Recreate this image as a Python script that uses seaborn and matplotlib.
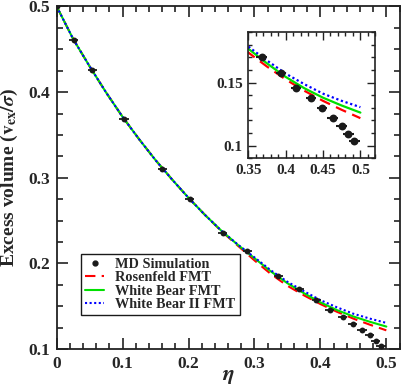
import numpy as np
import pandas as pd
import matplotlib
matplotlib.use("Agg")
import matplotlib.pyplot as plt
import seaborn as sns
from matplotlib.ticker import MultipleLocator
from matplotlib.lines import Line2D

# ---- data ----
eta_md = [0.0, 0.026, 0.054, 0.102, 0.160, 0.202, 0.252, 0.289, 0.336, 0.368,
          0.394, 0.414, 0.434, 0.449, 0.463, 0.475, 0.484, 0.492]
v_md = [0.5, 0.4604, 0.4254, 0.369, 0.3107, 0.275, 0.236, 0.2145, 0.1855, 0.1703,
        0.1572, 0.146, 0.1374, 0.1297, 0.1222, 0.1158, 0.109, 0.1035]
xerr_md = [0.0, 0.007, 0.007, 0.007, 0.007, 0.007, 0.007, 0.007, 0.007, 0.007,
           0.007, 0.007, 0.007, 0.007, 0.007, 0.007, 0.007, 0.007]

eta_th = [0.0, 0.025, 0.05, 0.075, 0.1, 0.125, 0.15, 0.175, 0.2, 0.225, 0.25,
          0.275, 0.3, 0.325, 0.35, 0.375, 0.4, 0.425, 0.45, 0.475, 0.5]
v_rosenfeld = [0.5, 0.462, 0.430, 0.3995, 0.371, 0.345, 0.3205, 0.298, 0.2765, 0.2565,
               0.2375, 0.2205, 0.2035, 0.1875, 0.1738, 0.1627, 0.1525, 0.1435, 0.1355,
               0.1284, 0.1218]
v_whitebear = [0.5, 0.462, 0.430, 0.3995, 0.371, 0.345, 0.3205, 0.298, 0.2765, 0.2565,
               0.238, 0.2215, 0.2060, 0.1905, 0.1768, 0.1652, 0.1545, 0.1455, 0.1380,
               0.1318, 0.1262]
v_whitebear2 = [0.5, 0.462, 0.430, 0.3995, 0.371, 0.345, 0.3205, 0.298, 0.2765, 0.2565,
                0.238, 0.2218, 0.2070, 0.1918, 0.1785, 0.1675, 0.1571, 0.1487, 0.1412,
                0.1355, 0.1305]

main_xticks = [0, 0.1, 0.2, 0.3, 0.4, 0.5]
main_xticklabels = ["0", "0.1", "0.2", "0.3", "0.4", "0.5"]
main_yticks = [0.1, 0.2, 0.3, 0.4, 0.5]
main_yticklabels = ["0.1", "0.2", "0.3", "0.4", "0.5"]
inset_xticks = [0.35, 0.4, 0.45, 0.5]
inset_xticklabels = ["0.35", "0.4", "0.45", "0.5"]
inset_yticks = [0.1, 0.15]
inset_yticklabels = ["0.1", "0.15"]

labels = ["MD Simulation", "Rosenfeld FMT", "White Bear FMT", "White Bear II FMT"]
colors = ["#000000", "#ff0000", "#00e000", "#0000ff"]

# ---- style ----
sns.set_theme(style="ticks")
plt.rcParams["font.family"] = ["Liberation Serif", "DejaVu Serif"]
plt.rcParams["font.weight"] = "bold"
plt.rcParams["mathtext.fontset"] = "stix"
plt.rcParams["axes.labelweight"] = "bold"

fig = plt.figure(figsize=(4.01, 3.89), dpi=100)
ax = fig.add_axes([0.1414, 0.1028, 0.8549, 0.8805])
axin = fig.add_axes([0.619, 0.593, 0.317, 0.3247])


def draw(a, ms, lw, elw):
    sns.lineplot(x=eta_th, y=v_rosenfeld, ax=a, color=colors[1], lw=lw,
                 linestyle=(0, (5, 3)), zorder=2)
    sns.lineplot(x=eta_th, y=v_whitebear, ax=a, color=colors[2], lw=lw,
                 linestyle="-", zorder=2)
    sns.lineplot(x=eta_th, y=v_whitebear2, ax=a, color=colors[3], lw=lw,
                 linestyle=(0, (1, 1.2)), zorder=2)
    a.errorbar(eta_md, v_md, xerr=xerr_md, fmt="none", ecolor="k",
               elinewidth=elw, capsize=0, zorder=3)
    sns.scatterplot(x=eta_md, y=v_md, ax=a, color="k", s=ms, edgecolor="k",
                    linewidth=0, zorder=4)


draw(ax, 18, 1.5, 1.3)
draw(axin, 32, 1.6, 1.5)

tick_font = dict(family="Liberation Serif", weight="bold")

# main axes
ax.set_xlim(0, 0.52)
ax.set_ylim(0.1, 0.5)
ax.set_xticks(main_xticks, main_xticklabels, fontsize=12.5, **tick_font)
ax.set_yticks(main_yticks, main_yticklabels, fontsize=12.5, **tick_font)
ax.xaxis.set_minor_locator(MultipleLocator(0.02))
ax.yaxis.set_minor_locator(MultipleLocator(0.025))
ax.tick_params(which="both", direction="in", top=True, right=True,
               color="#222222", width=1.2)
ax.tick_params(which="major", length=8)
ax.tick_params(axis="x", which="major", pad=5)
ax.tick_params(axis="y", which="major", pad=5)
ax.tick_params(which="minor", length=4)
for s in ax.spines.values():
    s.set_linewidth(1.3)
    s.set_color("#222222")

ax.set_xlabel(r"$\eta$", fontsize=16)
ax.xaxis.set_label_coords(0.5, -0.05)
ax.set_ylabel(r"Excess volume ($\mathbf{v}_{\mathbf{ex}}/\sigma$)", fontsize=14,
              fontweight="bold")
ax.yaxis.set_label_coords(-0.108, 0.5)

handles = [
    Line2D([], [], color="k", marker="o", ms=3.5, linestyle="none"),
    Line2D([], [], color=colors[1], lw=1.5, linestyle=(0, (5, 3))),
    Line2D([], [], color=colors[2], lw=1.5, linestyle="-"),
    Line2D([], [], color=colors[3], lw=1.5, linestyle=(0, (1, 1.2))),
]
leg = ax.legend(handles, labels, loc="lower left", bbox_to_anchor=(0.071, 0.099),
                borderaxespad=0, frameon=True, fancybox=False, edgecolor="k",
                framealpha=1, prop=dict(family="Liberation Serif", weight="bold", size=10.3),
                labelspacing=0.02, handlelength=1.3, handletextpad=0.8,
                borderpad=0.3)
leg.get_frame().set_linewidth(1.0)

# inset
axin.set_facecolor("white")
axin.set_xlim(0.35, 0.52)
axin.set_ylim(0.09, 0.19)
axin.set_xticks(inset_xticks, inset_xticklabels, fontsize=11, **tick_font)
axin.set_yticks(inset_yticks, inset_yticklabels, fontsize=11, **tick_font)
axin.xaxis.set_minor_locator(MultipleLocator(0.01))
axin.yaxis.set_minor_locator(MultipleLocator(0.01))
axin.tick_params(which="both", direction="in", top=True, right=True,
                 color="#222222", width=1.0)
axin.tick_params(which="major", length=6, pad=4)
axin.tick_params(which="minor", length=3)
for s in axin.spines.values():
    s.set_linewidth(1.2)
    s.set_color("#222222")
axin.set_xlabel("")
axin.set_ylabel("")

fig.savefig("out.png", dpi=100)
